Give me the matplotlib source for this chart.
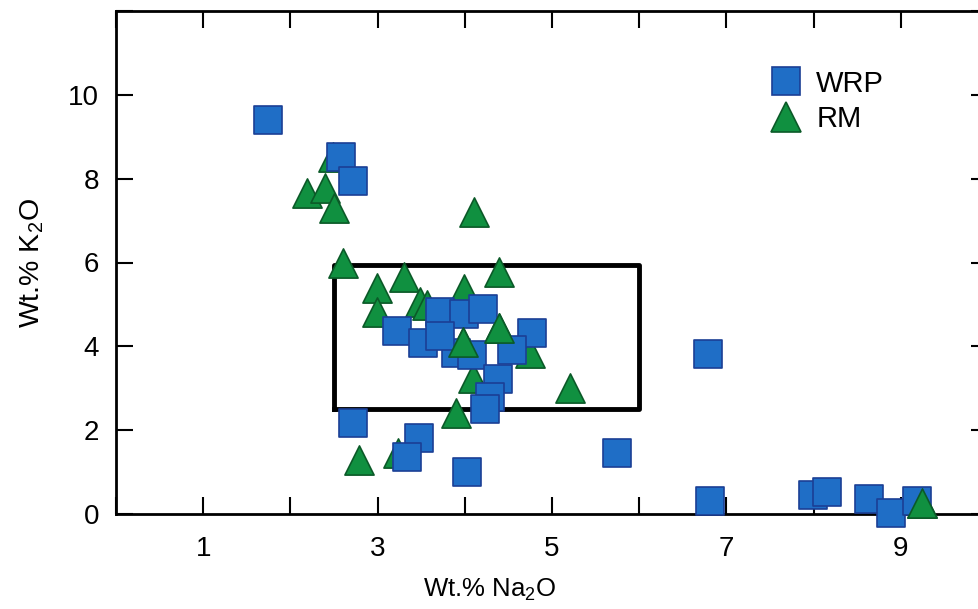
import matplotlib
matplotlib.use("Agg")
import matplotlib.pyplot as plt
from matplotlib.lines import Line2D

plt.rcParams['font.family'] = ['Liberation Sans', 'DejaVu Sans']

# WRP samples (Na2O, K2O)
wrp_na2o = [1.74, 2.58, 2.72, 2.72, 3.47, 3.34, 4.03, 5.75, 6.79, 6.81, 7.99, 8.15,
            8.64, 8.89, 9.19, 3.22, 3.52, 3.71, 3.99, 4.21, 4.77, 4.54, 3.90, 4.08,
            3.72, 4.38, 4.29, 4.23]
wrp_k2o = [9.41, 8.51, 7.95, 2.17, 1.82, 1.37, 1.01, 1.45, 3.81, 0.31, 0.45, 0.52,
           0.36, 0.02, 0.31, 4.36, 4.09, 4.81, 4.77, 4.88, 4.31, 3.91, 3.85, 3.80,
           4.24, 3.22, 2.79, 2.50]

# RM samples (Na2O, K2O)
rm_na2o = [2.49, 2.19, 2.40, 2.50, 2.60, 4.11, 2.99, 3.30, 2.99, 3.49, 3.57, 3.99,
           4.39, 4.39, 3.98, 4.75, 4.09, 5.21, 3.90, 2.79, 3.23, 9.24]
rm_k2o = [8.51, 7.65, 7.77, 7.29, 6.00, 7.20, 5.38, 5.65, 4.81, 5.05, 4.98, 5.36,
          5.77, 4.43, 4.10, 3.84, 3.24, 3.00, 2.41, 1.29, 1.45, 0.26]
# RM points drawn over the squares
rm_top = [13, 14, 21]

# outlined field
box_na2o = [2.5, 6.0]
box_k2o = [2.5, 5.93]

xticks = list(range(0, 11))
xlabels = ['', '1', '', '3', '', '5', '', '7', '', '9', '']
yticks = [0, 2, 4, 6, 8, 10, 12]
ylabels = ['0', '2', '4', '6', '8', '10', '']

blue, blue_edge = '#1f6ec6', '#1b3f95'
green, green_edge = '#109040', '#0b5a28'

fig = plt.figure(figsize=(9.79, 6.09), dpi=100)
# right spine (x=10) falls just outside the picture, as in the source
ax = fig.add_axes([116 / 979, 95 / 609, 872 / 979, 503 / 609])

ax.scatter(rm_na2o, rm_k2o, marker='^', s=21 ** 2, c=green, edgecolors=green_edge,
           linewidths=1.2, zorder=3, clip_on=False)
ax.scatter(wrp_na2o, wrp_k2o, marker='s', s=20 ** 2, c=blue, edgecolors=blue_edge,
           linewidths=1.2, zorder=4, clip_on=False)
ax.scatter([rm_na2o[i] for i in rm_top], [rm_k2o[i] for i in rm_top], marker='^',
           s=21 ** 2, c=green, edgecolors=green_edge, linewidths=1.2, zorder=5,
           clip_on=False)

ax.plot([box_na2o[0], box_na2o[1], box_na2o[1], box_na2o[0], box_na2o[0]],
        [box_k2o[0], box_k2o[0], box_k2o[1], box_k2o[1], box_k2o[0]],
        color='black', lw=3.5, zorder=2)

ax.set_xlim(0, 10)
ax.set_ylim(0, 12)
ax.set_xticks(xticks)
ax.set_xticklabels(xlabels)
ax.set_yticks(yticks)
ax.set_yticklabels(ylabels)
ax.tick_params(direction='in', length=12, width=1.5, labelsize=20,
               top=True, right=True)
ax.tick_params(axis='x', pad=16)
ax.tick_params(axis='y', pad=12)
ax.xaxis.get_major_ticks()[5].tick1line.set_color(green)
for sp in ax.spines.values():
    sp.set_linewidth(2)

ax.set_xlabel('Wt.% Na$_\\mathregular{2}$O', fontsize=18.5)
ax.xaxis.set_label_coords(0.429, -0.125)
ax.set_ylabel('Wt.% K$_\\mathregular{2}$O', fontsize=20.5)
ax.yaxis.set_label_coords(-0.08, 0.5)

handles = [
    Line2D([], [], ls='none', marker='s', ms=20, mfc=blue, mec=blue_edge, mew=1.2),
    Line2D([], [], ls='none', marker='^', ms=21, mfc=green, mec=green_edge, mew=1.2),
]
ax.legend(handles, ['WRP', 'RM'], loc='upper left', bbox_to_anchor=(0.728, 0.924),
          frameon=False, fontsize=21, handlelength=1.0, handletextpad=0.54,
          labelspacing=0.25, borderpad=0.2)

fig.savefig('out.png', dpi=100)
